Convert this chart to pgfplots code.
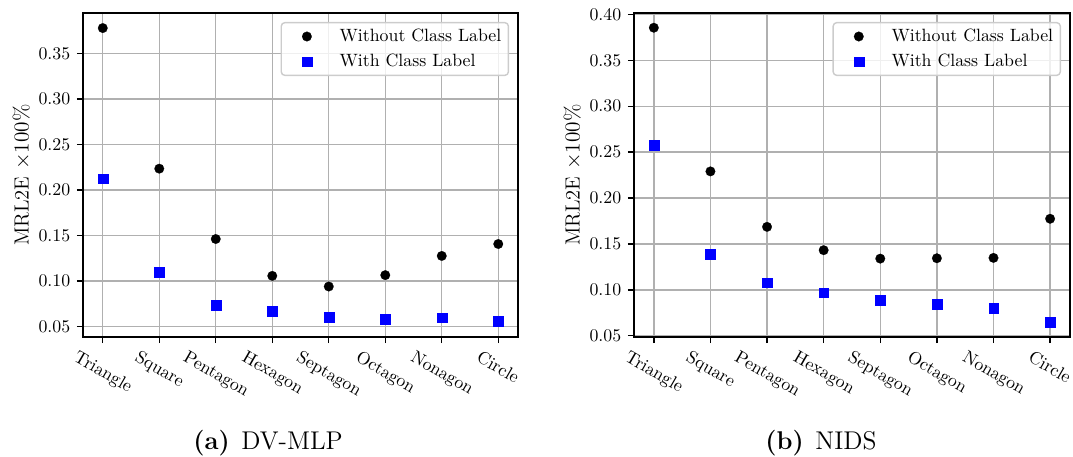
\documentclass[border=0pt]{standalone}
\usepackage{graphicx}
\usepackage{pgfplots}
\pgfplotsset{compat=1.18}
\pgfplotstableread{
x without with
0 0.378 0.2126
1 0.2235 0.1100
2 0.1462 0.0733
3 0.1057 0.0667
4 0.0940 0.0605
5 0.1065 0.0580
6 0.1276 0.0598
7 0.1407 0.0560
}\dvmlp
\pgfplotstableread{
x without with
0 0.3855 0.2578
1 0.2290 0.1390
2 0.1686 0.1079
3 0.1432 0.0970
4 0.1340 0.0890
5 0.1344 0.0842
6 0.1348 0.0803
7 0.1774 0.0646
}\nids
\begin{document}
\begin{tikzpicture}
\path[use as bounding box] (0pt,0pt) rectangle (602.8pt,-256.7pt);
\pgfplotsset{
  mystyle/.style={
    scale only axis,
    height=182pt,
    xmin=-0.35, xmax=7.35,
    xtick={0,1,2,3,4,5,6,7},
    xticklabels={\rotatebox{-30}{Triangle},\rotatebox{-30}{Square},\rotatebox{-30}{Pentagon},\rotatebox{-30}{Hexagon},\rotatebox{-30}{Septagon},\rotatebox{-30}{Octagon},\rotatebox{-30}{Nonagon},\rotatebox{-30}{Circle}},
    xticklabel style={anchor=north, inner sep=0pt, yshift=-3.5pt, font=\fontsize{10}{12}\selectfont},
    yticklabel style={anchor=east, inner sep=0pt, xshift=-3.5pt, font=\fontsize{10}{12}\selectfont},
    yticklabel={\pgfmathprintnumber[fixed,fixed zerofill,precision=2]{\tick}},
    scaled y ticks=false,
    xtick pos=bottom, ytick pos=left,
    tick align=outside,
    major tick length=3.5pt,
    every tick/.style={black, line width=0.8pt},
    axis line style={line width=0.8pt},
    grid=major,
    major grid style={color=black!31, line width=0.8pt},
    ylabel={MRL2E $\times 100\%$},
    ylabel style={font=\fontsize{11.5}{13}\selectfont, yshift=1pt},
    legend cell align=left,
    legend style={at={(1,1)}, anchor=north east, xshift=-5pt, yshift=-5pt,
      draw=black!20, line width=0.8pt, rounded corners=2pt, fill=white, fill opacity=0.8, text opacity=1,
      draw opacity=1,
      font=\fontsize{10}{12}\selectfont, inner xsep=4pt, inner ysep=3.5pt,
      row sep=5.5pt, column sep=8pt, nodes={inner sep=0pt}},
    legend image code/.code={%
      \path (0pt,0pt) (20pt,0pt);
      \draw[mark repeat=2,mark phase=2,opacity=1,##1] plot coordinates {(0pt,0pt) (10pt,0pt) (20pt,0pt)};},
  },
  s1/.style={only marks, mark=*, mark size=2.7pt, mark options={fill=black, draw=black, line width=0.1pt, opacity=1, fill opacity=1}},
  s2/.style={only marks, mark=square*, mark size=2.75pt, mark options={fill=blue, draw=blue, line width=0.1pt, opacity=1, fill opacity=1}},
}
\begin{axis}[mystyle, at={(46.63pt,-189.33pt)}, anchor=south west, width=244.4pt,
  ymin=0.0385, ymax=0.3945, ytick={0.05,0.10,0.15,0.20,0.25,0.30,0.35}]
\addplot[s1] table[x=x, y=without] {\dvmlp};
\addlegendentry{Without Class Label}
\addplot[s2] table[x=x, y=with] {\dvmlp};
\addlegendentry{With Class Label}
\end{axis}
\begin{axis}[mystyle, at={(356.18pt,-189.33pt)}, anchor=south west, width=244.9pt,
  ymin=0.0486, ymax=0.4015, ytick={0.05,0.10,0.15,0.20,0.25,0.30,0.35,0.40}]
\addplot[s1] table[x=x, y=without] {\nids};
\addlegendentry{Without Class Label}
\addplot[s2] table[x=x, y=with] {\nids};
\addlegendentry{With Class Label}
\end{axis}
\node[anchor=base, font=\fontsize{14.4}{17}\selectfont] at (150.6pt,-252.8pt) {\textbf{(a)}\hspace{0.45em}DV-MLP};
\node[anchor=base, font=\fontsize{14.4}{17}\selectfont] at (461.2pt,-252.8pt) {\textbf{(b)}\hspace{0.45em}NIDS};
\end{tikzpicture}
\end{document}
